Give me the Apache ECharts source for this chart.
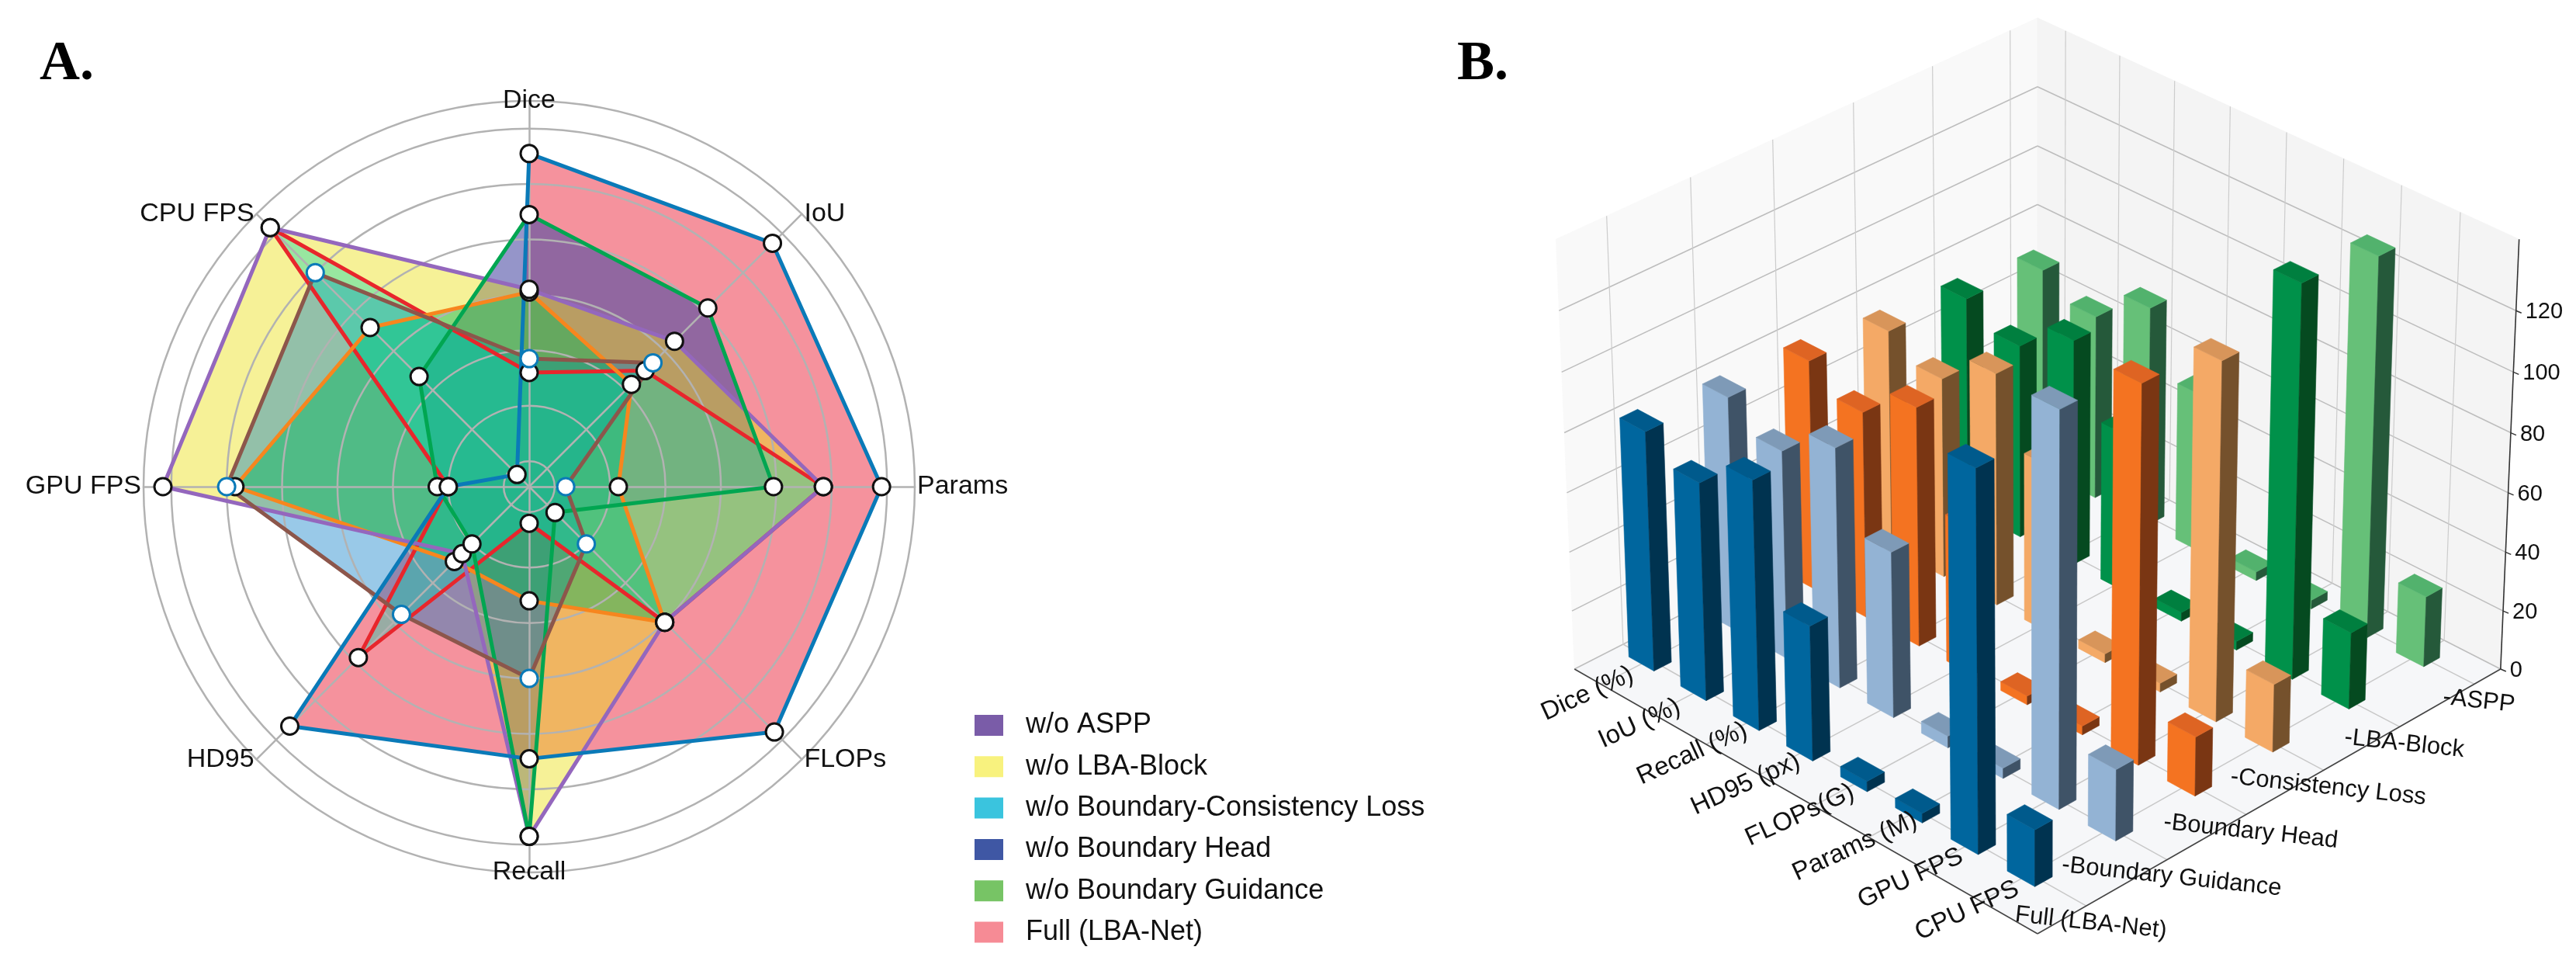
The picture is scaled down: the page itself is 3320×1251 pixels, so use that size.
<!DOCTYPE html>
<html>
<head>
<meta charset="utf-8">
<title>LBA-Net ablation</title>
<style>
  html, body { margin: 0; padding: 0; background: #fff; }
  #main { width: 3320px; height: 1251px; }
</style>
<script src="https://cdn.jsdelivr.net/npm/echarts@6/dist/echarts.min.js"></script>
</head>
<body>
<div id="main"></div>
<script>
  // radar axes, counter clockwise from the top because that's how radar lays them out
  const radarAxes = ['Dice', 'CPU FPS', 'GPU FPS', 'HD95', 'Recall', 'FLOPs', 'Params', 'IoU'];
  const radarRings = [0, 0.2, 0.4, 0.6, 0.8, 1.0, 1.2, 1.3];

  const radarAspp = [0.89, 0.47, 0.24, 0.20, 1.17, 0.04, 0.79, 0.82];
  const radarLba = [0.62, 1.23, 1.23, 0.25, 1.17, 0.60, 0.97, 0.65];
  const radarConsistency = [0.37, 1.00, 1.00, 0.56, 0.60, 0.20, 0.04, 0.54];
  const radarHead = [0.32, 1.23, 0.20, 0.78, 0.04, 0.60, 0.97, 0.50];
  const radarGuidance = [0.61, 0.72, 0.97, 0.29, 0.32, 0.60, 0.23, 0.43];
  const radarFull = [1.11, -0.03, 0.20, 1.13, 0.89, 1.16, 1.18, 1.15];

  const legendNames = ['w/o ASPP', 'w/o LBA-Block', 'w/o Boundary-Consistency Loss', 'w/o Boundary Head', 'w/o Boundary Guidance', 'Full (LBA-Net)'];
  const legendColors = ['#7a5ca8', '#f8f27e', '#3ac4de', '#3f57a4', '#77c465', '#f68b95'];

  // 3d bars: front row first
  const barMetrics = ['Dice (%)', 'IoU (%)', 'Recall (%)', 'HD95 (px)', 'FLOPs(G)', 'Params (M)', 'GPU FPS', 'CPU FPS'];
  const barModels = ['Full (LBA-Net)', '-Boundary Guidance', '-Boundary Head', '-Consistency Loss', '-LBA-Block', '-ASPP'];
  const zTicks = [0, 20, 40, 60, 80, 100, 120];

  const barFull = [81, 73.5, 84, 45.5, 3.5, 3.2, 126, 19];
  const barGuidance = [79, 70.5, 81, 56, 4, 3.5, 131, 24];
  const barHead = [78, 70, 81, 50, 3, 3, 126, 20];
  const barConsistency = [75, 68, 79, 57, 3, 3, 120, 23];
  const barLba = [73, 66, 77, 54, 3, 3, 132, 26];
  const barAspp = [70, 63, 75, 54, 3, 3, 128, 24];

  const barFace = ['#00669e', '#93b3d4', '#f47321', '#f4a966', '#00914a', '#66c078'];
  const barSide = ['#003350', '#3f5367', '#7a3613', '#75512c', '#054a20', '#25593a'];
  const barTop = ['#005a8c', '#7e9ab7', '#de6423', '#d8955a', '#007f3f', '#52b26d'];

  const FONT = '"Liberation Sans", Arial, sans-serif';
  const RADAR_C = [682, 627];
  const RADAR_R = 497;

  // fills are not the legend colours, the overlaps in the figure don't add up otherwise
  const fillLayers = [
    { name: 'Full (LBA-Net)', value: radarFull, fill: 'rgba(244,138,150,0.93)' },
    { name: 'w/o ASPP', value: radarAspp, fill: 'rgba(72,72,162,0.58)' },
    { name: 'w/o LBA-Block', value: radarLba, fill: 'rgba(235,224,24,0.45)' },
    { name: 'w/o Boundary-Consistency Loss', value: radarConsistency, fill: 'rgba(0,120,197,0.4)' },
    { name: 'w/o Boundary Guidance', value: radarGuidance, fill: 'rgba(0,182,90,0.45)' },
    { name: 'w/o Boundary Head', value: radarHead, fill: 'rgba(0,215,175,0.38)' }
  ];
  const lineLayers = [
    { name: 'w/o Boundary Head', value: radarHead, color: '#e8262c', width: 5 },
    { name: 'w/o Boundary Guidance', value: radarGuidance, color: '#f7861e', width: 5 },
    { name: 'w/o LBA-Block', value: radarLba, color: '#9467bd', width: 5 },
    { name: 'w/o ASPP', value: radarAspp, color: '#00a651', width: 5 },
    { name: 'w/o Boundary-Consistency Loss', value: radarConsistency, color: '#8c564b', width: 5 },
    { name: 'Full (LBA-Net)', value: radarFull, color: '#0a7ab8', width: 5 }
  ];
  const dotLayers = lineLayers.map(function (d) {
    return {
      name: d.name,
      value: d.value,
      itemStyle: {
        color: '#fff',
        borderColor: d.value === radarConsistency ? '#0a7ab8' : '#111',
        borderWidth: 3
      }
    };
  });

  // camera for the 3d panel, a and b run 0..2 from the front corner of the floor
  const CAM = { cx: 2626, cy: 862, f: 8862, dist: 21, sin: 0.539, cos: 0.842, zUnit: 0.01048 };
  const Z_TOP = 143;

  function project(a, b, z) {
    const wa = a - 1;
    const wb = b - 1;
    const h = z * CAM.zUnit;
    const xc = (wb - wa) / Math.SQRT2;
    const d = (wa + wb) / Math.SQRT2;
    const yc = h * CAM.cos + d * CAM.sin;
    const zc = CAM.dist + d * CAM.cos - h * CAM.sin;
    return [CAM.cx + CAM.f * xc / zc, CAM.cy - CAM.f * yc / zc];
  }
  function metricPos(i) { return 0.232 + 0.235 * (barMetrics.length - 1 - i); }
  function modelPos(k) { return 0.2 + 0.336 * k; }

  const barRows = [barFull, barGuidance, barHead, barConsistency, barLba, barAspp];
  const barData = [];
  barRows.forEach(function (row, k) {
    row.forEach(function (v, m) { barData.push([m, k, v]); });
  });
  // far bars get painted first
  barData.sort(function (p, q) {
    return (metricPos(q[0]) + modelPos(q[1])) - (metricPos(p[0]) + modelPos(p[1]));
  });

  function poly(points, fill) {
    return { type: 'polygon', shape: { points: points }, style: { fill: fill, stroke: fill, lineWidth: 0.6 } };
  }
  function seg(p, q, color, width) {
    return { type: 'line', shape: { x1: p[0], y1: p[1], x2: q[0], y2: q[1] }, style: { stroke: color, lineWidth: width } };
  }

  function renderBar(params, api) {
    const m = api.value(0);
    const k = api.value(1);
    const v = api.value(2);
    const a1 = metricPos(m) - 0.057;
    const a2 = metricPos(m) + 0.057;
    const b1 = modelPos(k) - 0.036;
    const b2 = modelPos(k) + 0.036;
    return {
      type: 'group',
      children: [
        poly([project(a1, b1, 0), project(a2, b1, 0), project(a2, b1, v), project(a1, b1, v)], barFace[k]),
        poly([project(a1, b1, 0), project(a1, b2, 0), project(a1, b2, v), project(a1, b1, v)], barSide[k]),
        poly([project(a1, b1, v), project(a2, b1, v), project(a2, b2, v), project(a1, b2, v)], barTop[k])
      ]
    };
  }

  function renderRoom() {
    const kids = [
      poly([project(2, 0, 0), project(2, 2, 0), project(2, 2, Z_TOP), project(2, 0, Z_TOP)], '#f9f9f9'),
      poly([project(0, 2, 0), project(2, 2, 0), project(2, 2, Z_TOP), project(0, 2, Z_TOP)], '#f4f4f4'),
      poly([project(0, 0, 0), project(2, 0, 0), project(2, 2, 0), project(0, 2, 0)], '#f6f7f9')
    ];
    zTicks.forEach(function (z) {
      kids.push(seg(project(2, 0, z), project(2, 2, z), '#bdbdbd', 1.5));
      kids.push(seg(project(0, 2, z), project(2, 2, z), '#bdbdbd', 1.5));
    });
    barModels.forEach(function (n, k) {
      const b = modelPos(k);
      kids.push(seg(project(0, b, 0), project(2, b, 0), '#c8c8c8', 1.5));
      kids.push(seg(project(2, b, 0), project(2, b, Z_TOP), '#cccccc', 1.2));
    });
    barMetrics.forEach(function (n, m) {
      const a = metricPos(m);
      kids.push(seg(project(a, 0, 0), project(a, 2, 0), '#c8c8c8', 1.5));
      kids.push(seg(project(a, 2, 0), project(a, 2, Z_TOP), '#cccccc', 1.2));
    });
    kids.push(seg(project(2, 0, 0), project(0, 0, 0), '#444', 1.6));
    kids.push(seg(project(0, 0, 0), project(0, 2, 0), '#444', 1.6));
    kids.push(seg(project(0, 2, 0), project(0, 2, Z_TOP), '#333', 1.6));
    return { type: 'group', children: kids };
  }

  function label(x, y, text, size, align, rotation) {
    return {
      type: 'text',
      x: x,
      y: y,
      rotation: rotation || 0,
      style: { text: text, font: size + 'px ' + FONT, fill: '#111', align: align, verticalAlign: 'middle' }
    };
  }

  function renderAxisText() {
    const kids = [];
    barMetrics.forEach(function (n, m) {
      const p = project(metricPos(m), 0, 0);
      kids.push(label(p[0] - 18, p[1] + 12, n, 33, 'center', 0.43));
    });
    barModels.forEach(function (n, k) {
      const p = project(0, modelPos(k), 0);
      kids.push(label(p[0] + 6, p[1] + 22, n, 31, 'center', -0.108));
    });
    zTicks.forEach(function (z) {
      const p = project(0, 2, z);
      kids.push(seg(p, [p[0] + 7, p[1] + 3], '#333', 1.4));
      kids.push(label(p[0] + 12, p[1] + 2, String(z), 29, 'left', 0));
    });
    return { type: 'group', children: kids };
  }

  function renderRadarNames() {
    const kids = [];
    radarAxes.forEach(function (n, i) {
      const ang = Math.PI / 2 + i * 2 * Math.PI / radarAxes.length;
      const c = Math.cos(ang);
      const x = RADAR_C[0] + RADAR_R * c;
      const y = RADAR_C[1] - RADAR_R * Math.sin(ang);
      const align = c > 0.1 ? 'left' : (c < -0.1 ? 'right' : 'center');
      kids.push(label(x + (c > 0.1 ? 3 : (c < -0.1 ? -3 : 0)), y, n, 34, align, 0));
    });
    return { type: 'group', children: kids };
  }

  const chart = echarts.init(document.getElementById('main'));
  chart.setOption({
    animation: false,
    backgroundColor: '#fff',
    title: [
      { text: 'A.', left: 46, top: 42, textStyle: { fontFamily: '"Liberation Serif"', fontWeight: 'bold', fontSize: 72, color: '#000' } },
      { text: 'B.', left: 1873, top: 42, textStyle: { fontFamily: '"Liberation Serif"', fontWeight: 'bold', fontSize: 72, color: '#000' } }
    ],
    legend: {
      orient: 'vertical',
      left: 1251,
      top: 911.5,
      height: 330,
      icon: 'rect',
      itemWidth: 37,
      itemHeight: 27,
      itemGap: 17.3,
      selectedMode: false,
      textStyle: { fontFamily: FONT, fontSize: 36, color: '#111', padding: [0, 0, 0, 24] },
      data: legendNames.map(function (n, i) {
        return { name: n, itemStyle: { color: legendColors[i], borderWidth: 0 } };
      })
    },
    radar: {
      center: RADAR_C,
      radius: RADAR_R,
      startAngle: 90,
      shape: 'circle',
      z: 3,
      indicator: radarAxes.map(function (n) { return { name: n, min: -0.092, max: 1.3 }; }),
      axisName: { show: false },
      axisLine: { show: true, lineStyle: { color: '#b2b2b2', width: 2.5 } },
      axisTick: { show: false, customValues: radarRings },
      axisLabel: { show: false },
      splitArea: { show: false },
      splitLine: { show: true, lineStyle: { color: '#b2b2b2', width: 2.5 } }
    },
    series: [
      {
        type: 'radar',
        name: 'fills',
        z: 2,
        symbol: 'none',
        lineStyle: { width: 0, opacity: 0 },
        data: fillLayers.map(function (d) {
          return { name: d.name, value: d.value, areaStyle: { color: d.fill, opacity: 1 } };
        })
      },
      {
        type: 'radar',
        name: 'lines',
        z: 4,
        symbol: 'none',
        data: lineLayers.map(function (d) {
          return { name: d.name, value: d.value, lineStyle: { color: d.color, width: d.width } };
        })
      },
      {
        type: 'radar',
        name: 'dots',
        z: 5,
        symbol: 'circle',
        symbolSize: 22,
        lineStyle: { width: 0, opacity: 0 },
        data: dotLayers
      },
      {
        type: 'custom',
        name: 'radar names',
        coordinateSystem: 'none',
        z: 6,
        silent: true,
        data: [[0]],
        renderItem: renderRadarNames
      },
      {
        type: 'custom',
        name: 'room',
        coordinateSystem: 'none',
        z: 1,
        silent: true,
        data: [[0]],
        renderItem: renderRoom
      },
      {
        type: 'custom',
        name: 'bars',
        coordinateSystem: 'none',
        z: 2,
        silent: true,
        data: barData,
        renderItem: renderBar
      },
      {
        type: 'custom',
        name: 'axis text',
        coordinateSystem: 'none',
        z: 7,
        silent: true,
        data: [[0]],
        renderItem: renderAxisText
      }
    ]
  });
</script>
</body>
</html>
